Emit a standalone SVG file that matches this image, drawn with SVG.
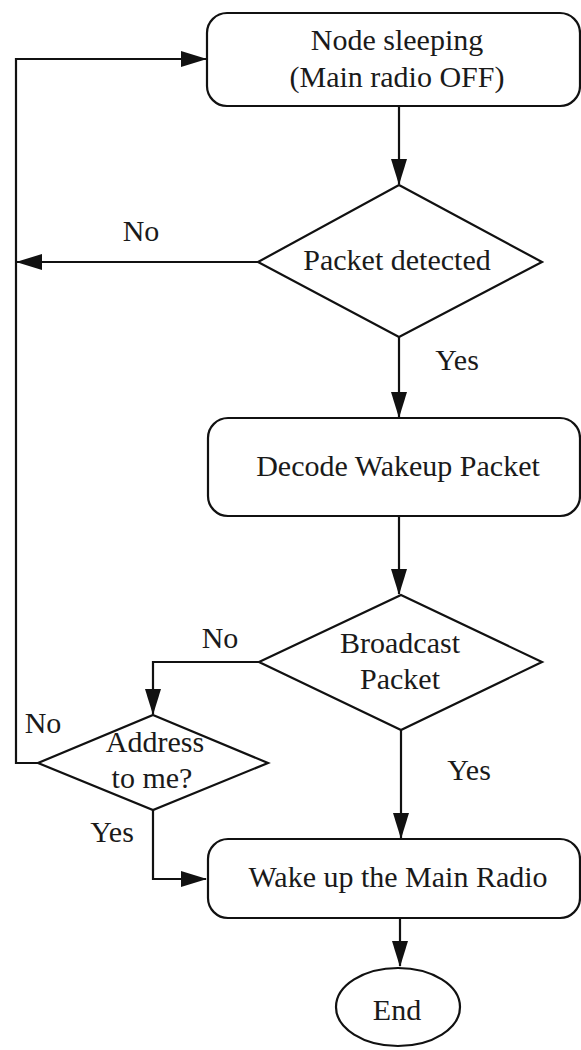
<svg xmlns="http://www.w3.org/2000/svg" width="581" height="1050" viewBox="0 0 581 1050">
<style>
.shape{fill:#fff;stroke:#111;stroke-width:2.2}
.line{fill:none;stroke:#111;stroke-width:2.2}
text{font-family:"Liberation Serif","Times New Roman",serif;font-size:30px;fill:#1a1a1a;text-anchor:middle}
</style>
<defs>
<marker id="ah" markerUnits="userSpaceOnUse" markerWidth="26" markerHeight="18" refX="25" refY="9" orient="auto">
<path d="M0,1 L26,9 L0,17 z" fill="#111"/>
</marker>
</defs>
<rect width="581" height="1050" fill="#fff"/>
<g id="connectors">
<path class="line" d="M399,106 V184" marker-end="url(#ah)"/>
<path class="line" d="M258,262 H17" marker-end="url(#ah)"/>
<path class="line" d="M399,337 V417" marker-end="url(#ah)"/>
<path class="line" d="M399,516 V594" marker-end="url(#ah)"/>
<path class="line" d="M259,662 H153 V714" marker-end="url(#ah)"/>
<path class="line" d="M401,730 V838" marker-end="url(#ah)"/>
<path class="line" d="M38,763 H16 V59 H206" marker-end="url(#ah)"/>
<path class="line" d="M153,810 V879 H206" marker-end="url(#ah)"/>
<path class="line" d="M400,918 V966" marker-end="url(#ah)"/>
<text x="141" y="241">No</text>
<text x="457" y="370">Yes</text>
<text x="220" y="648">No</text>
<text x="469" y="780">Yes</text>
<text x="43" y="733">No</text>
<text x="112" y="842">Yes</text>
</g>
<g id="node-sleeping">
<rect class="shape" x="207" y="13" width="373" height="93" rx="20" ry="20"/>
<text x="397" y="50">Node sleeping</text>
<text x="397" y="87">(Main radio OFF)</text>
</g>
<g id="packet-detected">
<polygon class="shape" points="399,185 542,262 399,337 258,262"/>
<text x="397" y="270">Packet detected</text>
</g>
<g id="decode">
<rect class="shape" x="208" y="418" width="372" height="98" rx="20" ry="20"/>
<text x="398" y="476">Decode Wakeup Packet</text>
</g>
<g id="broadcast">
<polygon class="shape" points="401,595 542,662 401,730 259,662"/>
<text x="400" y="653">Broadcast</text>
<text x="400" y="689">Packet</text>
</g>
<g id="address">
<polygon class="shape" points="153,715 268,763 153,810 38,763"/>
<text x="155" y="752">Address</text>
<text x="152" y="788">to me?</text>
</g>
<g id="wakeup">
<rect class="shape" x="208" y="839" width="372" height="79" rx="20" ry="20"/>
<text x="398" y="887">Wake up the Main Radio</text>
</g>
<g id="end">
<ellipse class="shape" cx="398" cy="1007" rx="62" ry="39"/>
<text x="397" y="1020">End</text>
</g>
</svg>
